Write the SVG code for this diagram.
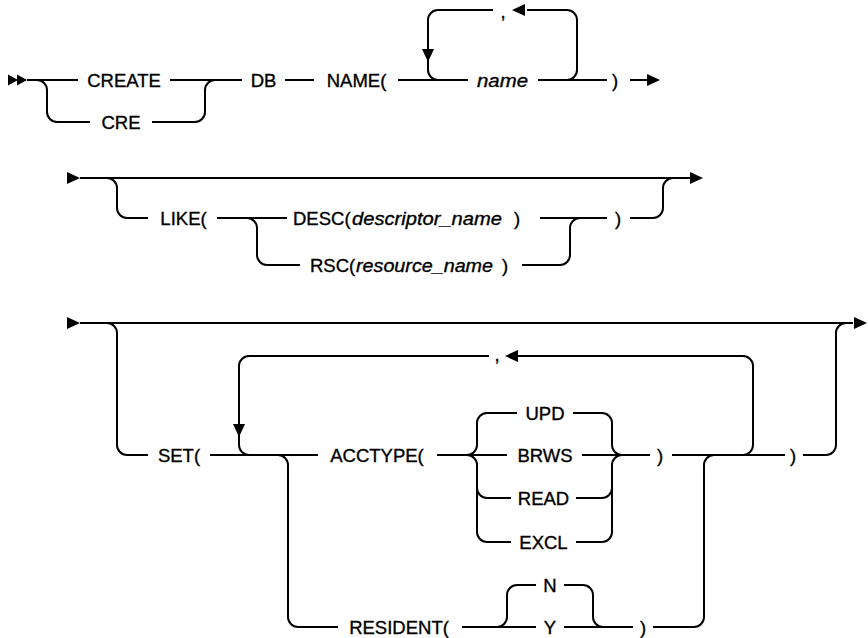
<svg xmlns="http://www.w3.org/2000/svg" xmlns:xlink="http://www.w3.org/1999/xlink" width="868" height="638" viewBox="0 0 868 638">
<style>
.ln{fill:none;stroke:#000;stroke-width:2}
.t{font-family:"Liberation Sans",Arial,sans-serif;font-size:18.5px;fill:#000;stroke:#000;stroke-width:0.35;text-anchor:middle}
.s{text-anchor:start}
.i{font-style:italic}
.ah{fill:#000}
</style>
<defs>
<path id="ah" d="M0,0 L-13,-6 L-13,6 Z"/>
<path id="sh" d="M0,0 L-10,-5.5 L-10,5.5 Z"/>
</defs>
<rect width="868" height="638" fill="#fff"/>
<g id="connectors">
<!-- row 1 -->
<path class="ln" d="M27,80 H78 M170,80 H242 M285,80 H314 M398,80 H468 M538,80 H607 M630,80 H648"/>
<path class="ln" d="M37,80 a10,10 0 0 1 10,10 V112 a10,10 0 0 0 10,10 H90 M152,122 H195 a10,10 0 0 0 10,-10 V90 a10,10 0 0 1 10,-10"/>
<path class="ln" d="M567,80 a10,10 0 0 0 10,-10 V20 a10,10 0 0 0 -10,-10 H527 M493,10 H438 a10,10 0 0 0 -10,10 V70 a10,10 0 0 0 10,10"/>
<use href="#sh" class="ah" x="18" y="80"/>
<use href="#sh" class="ah" x="27" y="80"/>
<use href="#ah" class="ah" transform="translate(660,80)"/>
<use href="#ah" class="ah" transform="translate(512,10) rotate(180)"/>
<use href="#ah" class="ah" transform="translate(428,62) rotate(90)"/>
<!-- row 2 -->
<path class="ln" d="M80,178 H690"/>
<path class="ln" d="M107,178 a10,10 0 0 1 10,10 V208 a10,10 0 0 0 10,10 H148 M217,218 H287 M540,218 H607 M630,218 H653 a10,10 0 0 0 10,-10 V188 a10,10 0 0 1 10,-10"/>
<path class="ln" d="M247,218 a10,10 0 0 1 10,10 V255 a10,10 0 0 0 10,10 H300 M522,265 H560 a10,10 0 0 0 10,-10 V228 a10,10 0 0 1 10,-10"/>
<use href="#ah" class="ah" transform="translate(80,178)"/>
<use href="#ah" class="ah" transform="translate(703,178)"/>
<!-- row 3 -->
<path class="ln" d="M80,323 H853"/>
<path class="ln" d="M107,323 a10,10 0 0 1 10,10 V445 a10,10 0 0 0 10,10 H148 M210,455 H318 M437,455 H507 M582,455 H650 M672,455 H785 M803,455 H826 a10,10 0 0 0 10,-10 V333 a10,10 0 0 1 10,-10"/>
<path class="ln" d="M743,455 a10,10 0 0 0 10,-10 V366 a10,10 0 0 0 -10,-10 H517 M489,356 H249 a10,10 0 0 0 -10,10 V445 a10,10 0 0 0 10,10"/>
<path class="ln" d="M467,455 a10,10 0 0 0 10,-10 V423 a10,10 0 0 1 10,-10 H517 M573,413 H602 a10,10 0 0 1 10,10 V445 a10,10 0 0 0 10,10"/>
<path class="ln" d="M467,455 a10,10 0 0 1 10,10 V488 a10,10 0 0 0 10,10 H511 M477,488 V532 a10,10 0 0 0 10,10 H511 M576,498 H602 a10,10 0 0 0 10,-10 V465 a10,10 0 0 1 10,-10 M576,542 H602 a10,10 0 0 0 10,-10 V488"/>
<path class="ln" d="M278,455 a10,10 0 0 1 10,10 V617 a10,10 0 0 0 10,10 H338 M462,627 H536 M564,627 H633 M653,627 H694 a10,10 0 0 0 10,-10 V465 a10,10 0 0 1 10,-10"/>
<path class="ln" d="M497,627 a10,10 0 0 0 10,-10 V595 a10,10 0 0 1 10,-10 H536 M564,585 H583 a10,10 0 0 1 10,10 V617 a10,10 0 0 0 10,10"/>
<use href="#ah" class="ah" transform="translate(80,323)"/>
<use href="#ah" class="ah" transform="translate(867,323)"/>
<use href="#ah" class="ah" transform="translate(505,356) rotate(180)"/>
<use href="#ah" class="ah" transform="translate(239,437) rotate(90)"/>
</g>
<g id="n-create"><text class="t" x="124" y="86.5">CREATE</text></g>
<g id="n-cre"><text class="t" x="121" y="128.5">CRE</text></g>
<g id="n-db"><text class="t" x="263.5" y="86.5">DB</text></g>
<g id="n-name-open"><text class="t" x="356.5" y="86.5">NAME(</text></g>
<g id="n-name"><text class="t s i" x="477" y="86.5" textLength="51" lengthAdjust="spacingAndGlyphs">name</text></g>
<g id="n-comma1"><text class="t" x="503" y="17.5">,</text></g>
<g id="n-close1"><text class="t" x="615" y="86.5">)</text></g>
<g id="n-like"><text class="t" x="183.5" y="224.5">LIKE(</text></g>
<g id="n-desc"><text class="t s" y="224.5"><tspan x="293">DESC(</tspan><tspan class="i" x="352" textLength="150" lengthAdjust="spacingAndGlyphs">descriptor_name</tspan><tspan x="514">)</tspan></text></g>
<g id="n-rsc"><text class="t s" y="271.5"><tspan x="310">RSC(</tspan><tspan class="i" x="356" textLength="137" lengthAdjust="spacingAndGlyphs">resource_name</tspan><tspan x="502">)</tspan></text></g>
<g id="n-close2"><text class="t" x="618" y="224.5">)</text></g>
<g id="n-set"><text class="t" x="179" y="461.5">SET(</text></g>
<g id="n-comma3"><text class="t" x="497" y="361">,</text></g>
<g id="n-acctype"><text class="t" x="377" y="461.5">ACCTYPE(</text></g>
<g id="n-upd"><text class="t" x="545" y="419.5">UPD</text></g>
<g id="n-brws"><text class="t" x="545" y="461.5">BRWS</text></g>
<g id="n-read"><text class="t" x="543.5" y="504.5">READ</text></g>
<g id="n-excl"><text class="t" x="543.5" y="548.5">EXCL</text></g>
<g id="n-close3"><text class="t" x="660" y="461.5">)</text></g>
<g id="n-close4"><text class="t" x="793" y="461.5">)</text></g>
<g id="n-resident"><text class="t" x="399" y="633.5">RESIDENT(</text></g>
<g id="n-n"><text class="t" x="550" y="591.5">N</text></g>
<g id="n-y"><text class="t" x="550" y="633.5">Y</text></g>
<g id="n-close5"><text class="t" x="643" y="633.5">)</text></g>
</svg>
